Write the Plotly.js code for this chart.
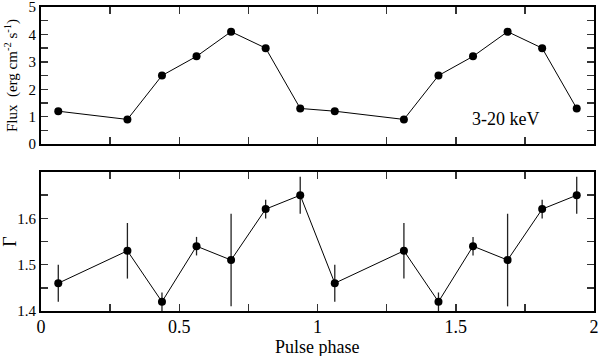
<!DOCTYPE html>
<html>
<head>
<meta charset="utf-8">
<script src="https://cdn.plot.ly/plotly-3.0.1.min.js"></script>
<style>
  html, body { margin: 0; padding: 0; background: #fff; }
  #chart { width: 600px; height: 356px; }
</style>
</head>
<body>
<div id="chart"></div>
<script>
// pulse phase bins (two cycles shown)
const phase = [0.0625, 0.3125, 0.4375, 0.5625, 0.6875, 0.8125, 0.9375,
               1.0625, 1.3125, 1.4375, 1.5625, 1.6875, 1.8125, 1.9375];
const flux = [1.2, 0.9, 2.5, 3.2, 4.1, 3.5, 1.3,
              1.2, 0.9, 2.5, 3.2, 4.1, 3.5, 1.3];
const gamma = [1.46, 1.53, 1.42, 1.54, 1.51, 1.62, 1.65,
               1.46, 1.53, 1.42, 1.54, 1.51, 1.62, 1.65];
const gammaErr = [0.04, 0.06, 0.02, 0.02, 0.10, 0.02, 0.04,
                  0.04, 0.06, 0.02, 0.02, 0.10, 0.02, 0.04];

const xTickVals = [0, 0.25, 0.5, 0.75, 1, 1.25, 1.5, 1.75, 2];
const xTickText = ['0', ' ', '0.5', ' ', '1', ' ', '1.5', ' ', '2'];
const fluxTickVals = [0, 0.5, 1, 1.5, 2, 2.5, 3, 3.5, 4, 4.5, 5];
const fluxTickText = ['0', ' ', '1', ' ', '2', ' ', '3', ' ', '4', ' ', '5'];
const gamTickVals = [1.4, 1.45, 1.5, 1.55, 1.6, 1.65, 1.7];
const gamTickText = ['1.4', ' ', '1.5', ' ', '1.6', ' ', ' '];

const serif = '"Liberation Serif", "DejaVu Serif", serif';

const traces = [
    {
        x: phase,
        y: flux,
        xaxis: 'x2',
        yaxis: 'y2',
        mode: 'lines+markers',
        line: { color: '#000', width: 1 },
        marker: { color: '#000', size: 8 },
        showlegend: false
    },
    {
        x: phase,
        y: gamma,
        xaxis: 'x',
        yaxis: 'y',
        mode: 'lines+markers',
        line: { color: '#000', width: 1 },
        marker: { color: '#000', size: 8 },
        error_y: { type: 'data', array: gammaErr, visible: true, color: '#222', thickness: 1.3, width: 0 },
        showlegend: false
    }
];

const axisBase = {
    showline: true,
    linecolor: '#000',
    linewidth: 2,
    mirror: 'allticks',
    ticks: 'inside',
    ticklen: 7,
    tickwidth: 1.5,
    tickcolor: '#333',
    showgrid: false,
    zeroline: false,
    tickmode: 'array',
    ticklabeloverflow: 'allow'
};

const layout = {
    width: 600,
    height: 356,
    margin: { l: 41, r: 6, t: 7, b: 45 },
    paper_bgcolor: '#fff',
    plot_bgcolor: '#fff',
    font: { family: serif, color: '#000' },
    xaxis: Object.assign({}, axisBase, {
        domain: [0, 1],
        anchor: 'y',
        range: [0, 2],
        tickvals: xTickVals,
        ticktext: xTickText,
        ticklabelstandoff: -2,
        tickfont: { family: serif, size: 18, color: '#000' }
    }),
    yaxis: Object.assign({}, axisBase, {
        domain: [0, 0.457],
        anchor: 'x',
        range: [1.4, 1.7],
        tickvals: gamTickVals,
        ticktext: gamTickText,
        tickfont: { family: serif, size: 15, color: '#000' },
        title: { text: 'Γ', font: { family: serif, size: 18, color: '#000' }, standoff: 10 }
    }),
    xaxis2: Object.assign({}, axisBase, {
        domain: [0, 1],
        anchor: 'y2',
        range: [0, 2],
        tickvals: xTickVals,
        showticklabels: false
    }),
    yaxis2: Object.assign({}, axisBase, {
        domain: [0.549, 1],
        anchor: 'x2',
        range: [0, 5],
        tickvals: fluxTickVals,
        ticktext: fluxTickText,
        tickfont: { family: serif, size: 15, color: '#000' },
        title: {
            text: 'Flux  (erg cm<sup>-2</sup> s<sup>-1</sup>)',
            font: { family: serif, size: 15, color: '#000' },
            standoff: 7
        }
    }),
    annotations: [
        {
            x: 1.68,
            y: 0.9,
            xref: 'x2',
            yref: 'y2',
            text: '3-20 keV',
            showarrow: false,
            font: { family: serif, size: 18, color: '#000' }
        },
        {
            x: 0.5,
            y: 0,
            xref: 'paper',
            yref: 'paper',
            yanchor: 'middle',
            yshift: -36,
            text: 'Pulse phase',
            showarrow: false,
            font: { family: serif, size: 18, color: '#000' }
        }
    ]
};

Plotly.newPlot('chart', traces, layout, { displayModeBar: false, staticPlot: true });
</script>
</body>
</html>
